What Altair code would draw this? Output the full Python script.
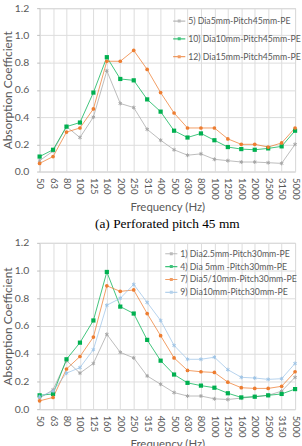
import altair as alt
import pandas as pd

freqs = ["50", "63", "80", "100", "125", "160", "200", "250", "315", "400",
         "500", "630", "800", "1000", "1250", "1600", "2000", "2500", "3150", "5000"]

# Panel (a): perforated pitch 45 mm
a_names = ["5) Dia5mm-Pitch45mm-PE", "10) Dia10mm-Pitch45mm-PE", "12) Dia15mm-Pitch45mm-PE"]
a_dia5 = [0.08, 0.15, 0.33, 0.25, 0.40, 0.74, 0.50, 0.47, 0.31, 0.23,
          0.16, 0.12, 0.13, 0.09, 0.08, 0.07, 0.07, 0.065, 0.06, 0.20]
a_dia10 = [0.11, 0.16, 0.33, 0.36, 0.58, 0.84, 0.68, 0.67, 0.53, 0.44,
           0.30, 0.25, 0.28, 0.23, 0.18, 0.165, 0.16, 0.17, 0.185, 0.30]
a_dia15 = [0.06, 0.11, 0.29, 0.32, 0.46, 0.81, 0.81, 0.89, 0.75, 0.58,
           0.43, 0.32, 0.32, 0.32, 0.24, 0.20, 0.20, 0.18, 0.21, 0.32]

# Panel (b): perforated pitch 30 mm
b_names = ["1) Dia2.5mm-Pitch30mm-PE", "4) Dia 5mm -Pitch30mm-PE",
           "7) Dia5/10mm-Pitch30mm-PE", "9) Dia10mm-Pitch30mm-PE"]
b_dia25 = [0.08, 0.14, 0.35, 0.26, 0.33, 0.54, 0.41, 0.37, 0.24, 0.18,
           0.12, 0.095, 0.095, 0.075, 0.07, 0.08, 0.09, 0.10, 0.13, 0.23]
b_dia5 = [0.10, 0.11, 0.36, 0.48, 0.64, 0.99, 0.74, 0.69, 0.50, 0.35,
          0.25, 0.19, 0.17, 0.155, 0.115, 0.085, 0.09, 0.10, 0.11, 0.145]
b_dia510 = [0.06, 0.085, 0.29, 0.38, 0.52, 0.89, 0.85, 0.86, 0.69, 0.53,
            0.37, 0.28, 0.27, 0.265, 0.195, 0.155, 0.15, 0.15, 0.165, 0.27]
b_dia10 = [0.09, 0.13, 0.26, 0.30, 0.43, 0.75, 0.80, 0.90, 0.77, 0.64,
           0.46, 0.36, 0.36, 0.375, 0.285, 0.23, 0.225, 0.215, 0.22, 0.33]

y_ticks = [0.0, 0.2, 0.4, 0.6, 0.8, 1.0, 1.2]
caption_a = "(a)  Perforated  pitch  45 mm"

GRAY = "#A5A5A5"
GREEN = "#00B050"
ORANGE = "#ED7D31"
BLUE = "#9DC3E6"

ASTER = "M0,-1V1M-0.87,-0.5L0.87,0.5M-0.87,0.5L0.87,-0.5"
LEG_SYM = "M-1,0H1M-0.15,-0.15H0.15V0.15H-0.15Z"

AXIS_COLOR = "#595959"
FONT = "Lato"


def long_df(names, series, key):
    rows = []
    for n, vals in zip(names, series):
        for f, v in zip(freqs, vals):
            rows.append({"freq": f, key: n, "value": v})
    return pd.DataFrame(rows)


def panel(names, series, colors, shapes, sizes, height, legend_x, legend_y, row_pad, key,
          title=None):
    df = long_df(names, series, key)
    x = alt.X("freq:N", sort=freqs,
              scale=alt.Scale(type="point", padding=0),
              axis=alt.Axis(title="Frequency (Hz)", labelAngle=90, labelAlign="left",
                            labelBaseline="middle", grid=True, gridColor="#DDDDDD",
                            domain=False, ticks=False, labelPadding=6,
                            labelFontSize=9.5, labelColor=AXIS_COLOR, labelFont=FONT,
                            titleFontSize=11.5, titleColor=AXIS_COLOR, titleFont=FONT,
                            titleFontWeight="normal", titlePadding=2))
    y = alt.Y("value:Q",
              scale=alt.Scale(domain=[0, 1.2], nice=False),
              axis=alt.Axis(title="Absorption Coefficient", values=y_ticks, format=".1f",
                            grid=True, gridColor="#DDDDDD", domain=False,
                            tickSize=3, tickColor="#BFBFBF", labelPadding=8,
                            labelFontSize=10.5, labelColor=AXIS_COLOR, labelFont=FONT,
                            titleFontSize=12, titleColor=AXIS_COLOR, titleFont=FONT,
                            titleFontWeight="normal", titlePadding=0))
    cscale = alt.Scale(domain=names, range=colors)
    base = alt.Chart(df)
    lines = base.mark_line(strokeWidth=1, opacity=0.75).encode(
        x=x, y=y,
        color=alt.Color(key + ":N", scale=cscale, sort=names,
                        legend=alt.Legend(title=None, orient="none", legendX=legend_x,
                                          legendY=legend_y, symbolType=LEG_SYM,
                                          symbolSize=150, symbolStrokeWidth=1.2,
                                          rowPadding=row_pad, labelFontSize=8.8,
                                          labelFont=FONT, labelColor=AXIS_COLOR,
                                          labelOffset=2, labelLimit=160)),
    )
    layers = [lines]
    for n, c, s, sz in zip(names, colors, shapes, sizes):
        filled = s != ASTER
        layers.append(
            base.transform_filter(alt.datum[key] == n)
            .mark_point(shape=s, filled=filled, color=c, size=sz, strokeWidth=1, opacity=1)
            .encode(x=x, y=y)
        )
    props = dict(width=258, height=height)
    if title is not None:
        props["title"] = alt.TitleParams(title, orient="bottom", font="Liberation Serif",
                                         fontSize=13.5, fontWeight="normal", color="black",
                                         offset=4, anchor="middle")
    return alt.layer(*layers).properties(**props)


top = panel(a_names, [a_dia5, a_dia10, a_dia15], [GRAY, GREEN, ORANGE],
            [ASTER, "square", "circle"], [16, 18, 14], 165, 134, 6, 6, "sa", caption_a)
bottom = panel(b_names, [b_dia25, b_dia5, b_dia510, b_dia10], [GRAY, GREEN, ORANGE, BLUE],
               [ASTER, "square", "circle", ASTER], [16, 18, 14, 16], 168, 126, 4, 1, "sb")

chart = alt.vconcat(top, bottom, spacing=6).properties(
    padding={"left": 0, "top": 0, "right": 0, "bottom": 0},
).resolve_scale(color="independent").resolve_legend(color="independent").configure_view(
    stroke="#C8C8C8", strokeWidth=1)

chart.save("out.html", embed_options={"renderer": "svg", "actions": False})
